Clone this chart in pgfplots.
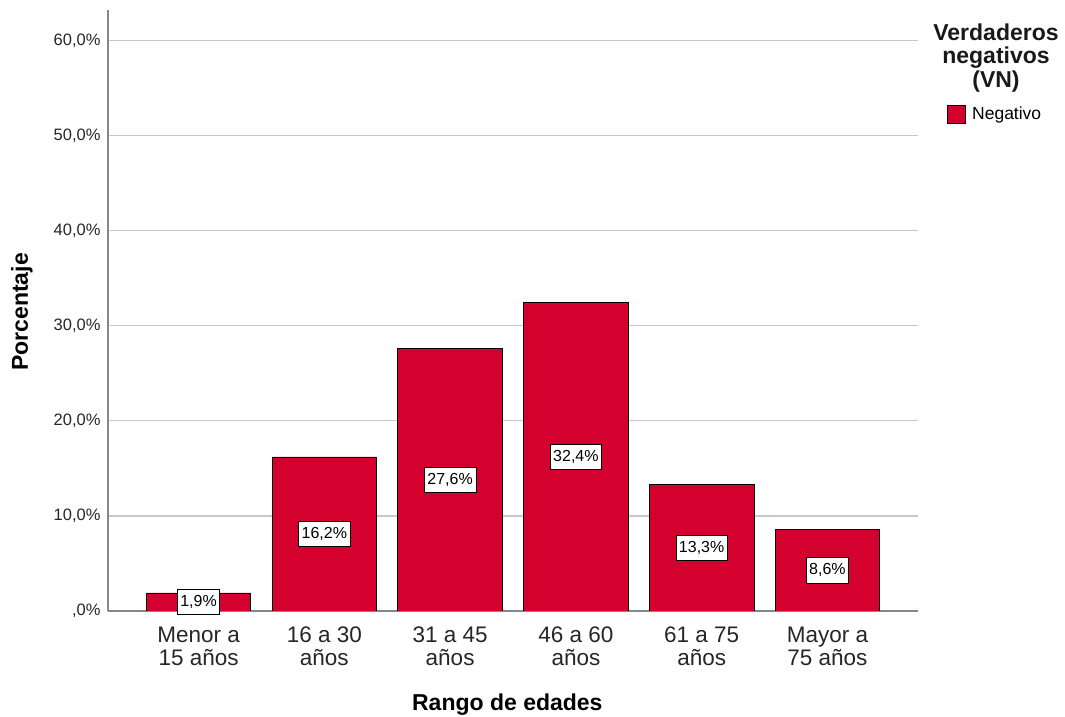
\documentclass[border=0pt]{standalone}
\usepackage{pgfplots}
\pgfplotsset{compat=1.18}
\usepackage{pgfplotstable}
\usepackage{fontspec}
\setmainfont{Liberation Sans}
\definecolor{barred}{RGB}{212,0,46}
\definecolor{gridgray}{RGB}{200,200,200}
\definecolor{axgray}{RGB}{135,135,135}
\pgfplotstableread{
x v
0 1.9
1 16.2
2 27.6
3 32.4
4 13.3
5 8.6
}\datatable
\begin{document}
\begin{tikzpicture}[x=1pt,y=1pt]
\path[use as bounding box] (0,0) rectangle (1065,717);
\begin{axis}[
  at={(108pt,106pt)}, anchor=south west,
  scale only axis, width=810pt, height=601pt,
  xmin=-0.72, xmax=5.72, ymin=0, ymax=63.2,
  axis lines*=left,
  axis line style={-, draw=axgray, line width=1.4pt},
  ymajorgrids, grid style={draw=gridgray, line width=1.3pt},
  major tick length=0pt,
  xtick={0,1,2,3,4,5},
  xticklabels={{Menor a\\15 años},{16 a 30\\años},{31 a 45\\años},{46 a 60\\años},{61 a 75\\años},{Mayor a\\75 años}},
  xticklabel style={font=\fontsize{22.5}{23.5}\selectfont, align=center, text=black!85, yshift=-12pt},
  ytick={0,10,20,30,40,50,60},
  yticklabels={{,0\%},{10,0\%},{20,0\%},{30,0\%},{40,0\%},{50,0\%},{60,0\%}},
  yticklabel style={font=\fontsize{16.5}{18}\selectfont, text=black!85, xshift=-4pt},
  /pgf/number format/assume math mode=true,
  xlabel={Rango de edades},
  xlabel style={at={(axis description cs:0.493,0)}, anchor=center, yshift=-94pt, font=\bfseries\fontsize{23}{26}\selectfont},
  ylabel={Porcentaje},
  ylabel style={at={(axis description cs:-0.1062,0.4975)}, anchor=center, font=\bfseries\fontsize{23}{26}\selectfont},
  legend style={at={(axis description cs:1.036,0.827)}, anchor=west, draw=none, fill=none, inner sep=0pt,
    font=\fontsize{17.5}{20}\selectfont, cells={anchor=west}},
  legend image code/.code={\draw[fill=barred, draw=black, line width=0.8pt] (0pt,-9pt) rectangle (18pt,9pt);},
  /tikz/every even column/.append style={column sep=2pt},
]
\addplot[ybar, bar width=104.5pt, fill=barred, draw=black, line width=0.8pt, bar shift=0pt]
  table[x=x, y=v] {\datatable};
\addlegendentry{\hspace{4pt}Negativo}
\addplot[only marks, mark=none, forget plot,
  point meta=explicit,
  nodes near coords={\pgfmathprintnumber[fixed, fixed zerofill, precision=1, use comma]{\pgfplotspointmeta}\%},
  nodes near coords style={anchor=center, draw=black, fill=white, line width=0.6pt,
    font=\fontsize{16}{18}\selectfont, inner xsep=3pt, inner ysep=5.5pt, text height=11.5pt, text depth=3pt}]
  table[x=x, y expr=\thisrow{v}/2, meta=v] {\datatable};
\end{axis}
\node[align=center, font=\bfseries\fontsize{23}{23.5}\selectfont, text=black!90] at (996,659) {Verdaderos\\negativos\\(VN)};
\end{tikzpicture}
\end{document}
